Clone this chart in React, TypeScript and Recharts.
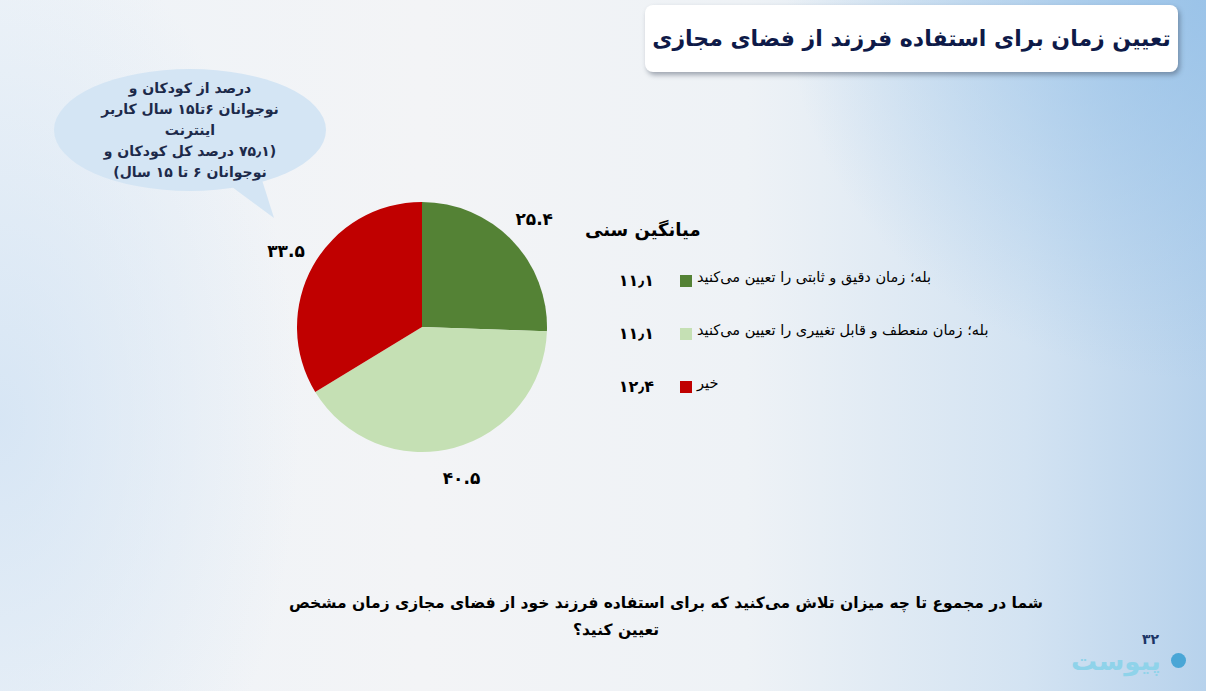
import { Cell, Legend, Pie, PieChart } from "recharts";

// ─── Data ─────────────────────────────────────────────
const categories = [
  "بله؛ زمان دقیق و ثابتی را تعیین می‌کنید",
  "بله؛ زمان منعطف و قابل تغییری را تعیین می‌کنید",
  "خیر",
];
const shares = [25.4, 40.5, 33.5];
const avgAges = [11.1, 11.1, 12.4];
const sliceColors = ["#548235", "#C5E0B4", "#C00000"];

const TITLE = "تعیین زمان برای استفاده فرزند از فضای مجازی";
const LEGEND_TITLE = "میانگین سنی";
const QUESTION_LINE_1 =
  "شما در مجموع تا چه میزان تلاش می‌کنید که برای استفاده فرزند خود از فضای مجازی زمان مشخص";
const QUESTION_LINE_2 = "تعیین کنید؟";
const BUBBLE_LINES = [
  "درصد از کودکان و",
  "نوجوانان ۶تا۱۵ سال کاربر",
  "اینترنت",
  "(۷۵٫۱ درصد کل کودکان و",
  "نوجوانان ۶ تا ۱۵ سال)",
];

const FONT = '"DejaVu Sans", sans-serif';
const RADIAN = Math.PI / 180;

const faDigits = (s: string) => s.replace(/\d/g, (d) => "۰۱۲۳۴۵۶۷۸۹"[+d]);

const chartData = categories.map((name, i) => ({ name, value: shares[i], age: avgAges[i] }));

function SliceLabel(props: any) {
  const { cx, cy, midAngle, outerRadius, value } = props;
  const r = outerRadius + 31;
  const x = cx + r * Math.cos(-midAngle * RADIAN);
  const y = cy + r * Math.sin(-midAngle * RADIAN);
  return (
    <text
      x={x}
      y={y}
      textAnchor="middle"
      dominantBaseline="central"
      fill="#000"
      style={{ fontFamily: FONT, fontWeight: 900, fontSize: 17 }}
    >
      {faDigits(value.toFixed(1))}
    </text>
  );
}

function AgeLegend({ payload }: { payload?: any[] }) {
  return (
    <div style={{ position: "relative", width: 420, height: 200, fontFamily: FONT }}>
      <div
        style={{
          position: "absolute", left: 5, top: 4, fontWeight: 900, fontSize: 18,
          color: "#000", direction: "rtl",
        }}
      >
        {LEGEND_TITLE}
      </div>
      {(payload ?? []).map((p, i) => (
        <div key={i} style={{ position: "absolute", left: 0, top: 58 + i * 53, height: 16, width: 420 }}>
          <span
            style={{
              position: "absolute", right: 346, top: -2, fontWeight: 900, fontSize: 16,
              color: "#000",
            }}
          >
            {faDigits(avgAges[i].toFixed(1)).replace(".", "٫")}
          </span>
          <span
            style={{
              position: "absolute", left: 100, top: 2, width: 12, height: 12,
              background: p.color,
            }}
          />
          <span
            style={{
              position: "absolute", left: 117, top: -4, fontSize: 14.5, color: "#000",
              direction: "rtl", whiteSpace: "nowrap",
            }}
          >
            {p.value}
          </span>
        </div>
      ))}
    </div>
  );
}

export default function App() {
  return (
    <div
      style={{
        position: "absolute", left: 0, top: 0, width: 1206, height: 691, overflow: "hidden",
        background:
          "radial-gradient(ellipse 420px 380px at 1206px 0px, rgba(150,193,232,0.85), rgba(150,193,232,0) 100%)," +
          "radial-gradient(ellipse 300px 500px at 0px 420px, rgba(205,224,243,0.7), rgba(205,224,243,0) 100%)," +
          "linear-gradient(90deg, #eef3f8 0%, #f3f4f6 35%, #eef2f6 62%, #d3e3f2 85%, #b7d2ec 100%)",
        fontFamily: FONT,
      }}
    >
      {/* title box */}
      <div
        style={{
          position: "absolute", left: 645, top: 5, width: 533, height: 67, background: "#fff",
          borderRadius: 8, boxShadow: "2px 3px 5px rgba(60,70,90,0.45)",
          display: "flex", alignItems: "center", justifyContent: "center",
          direction: "rtl", fontWeight: 900, fontSize: 22, color: "#0e1a48", whiteSpace: "nowrap",
        }}
      >
        {TITLE}
      </div>

      {/* speech bubble */}
      <svg style={{ position: "absolute", left: 0, top: 0 }} width={400} height={240}>
        <path d="M228 184 L274 218 L262 180 Z" fill="#d4e5f4" />
        <ellipse cx={190} cy={130} rx={136} ry={61} fill="#d4e5f4" />
      </svg>
      <div
        style={{
          position: "absolute", left: 70, top: 78, width: 240, textAlign: "center",
          direction: "rtl", fontSize: 14, fontWeight: 700, color: "#1d2a4a", lineHeight: "21px",
        }}
      >
        {BUBBLE_LINES.map((l, i) => (
          <div key={i}>{l}</div>
        ))}
      </div>

      <div style={{ position: "absolute", left: 0, top: 0 }}>
        <PieChart width={1206} height={560} margin={{ top: 0, right: 0, bottom: 0, left: 0 }}>
          <Pie
            data={chartData}
            dataKey="value"
            nameKey="name"
            cx={422}
            cy={327}
            outerRadius={125}
            startAngle={90}
            endAngle={-270}
            stroke="none"
            label={SliceLabel}
            labelLine={false}
            isAnimationActive={false}
          >
            {chartData.map((_, i) => (
              <Cell key={i} fill={sliceColors[i]} />
            ))}
          </Pie>
          <Legend
            layout="vertical"
            align="center"
            verticalAlign="middle"
            wrapperStyle={{ left: 580, top: 215, width: 420 }}
            content={(props: any) => <AgeLegend payload={props.payload} />}
          />
        </PieChart>
      </div>

      {/* question */}
      <div
        style={{
          position: "absolute", left: 266, top: 594, width: 800, textAlign: "center",
          direction: "rtl", fontWeight: 900, fontSize: 15.5, color: "#000", whiteSpace: "nowrap",
        }}
      >
        {QUESTION_LINE_1}
      </div>
      <div
        style={{
          position: "absolute", left: 516, top: 621, width: 200, textAlign: "center",
          direction: "rtl", fontWeight: 900, fontSize: 15.5, color: "#000",
        }}
      >
        {QUESTION_LINE_2}
      </div>

      {/* logo */}
      <div style={{ position: "absolute", left: 1062, top: 632, width: 130, height: 45 }}>
        <span
          style={{
            position: "absolute", left: 80, top: 0, fontSize: 14, lineHeight: "14px",
            fontWeight: 900, color: "#1d3566",
          }}
        >
          ۳۲
        </span>
        <span
          style={{
            position: "absolute", left: 2, top: 17, width: 104, textAlign: "center",
            fontSize: 26, lineHeight: "24px", fontWeight: 900, color: "#8fd3ea", direction: "rtl",
          }}
        >
          پیوست
        </span>
        <span
          style={{
            position: "absolute", left: 109, top: 21, width: 15, height: 15, borderRadius: 8,
            background: "#4aa6d6",
          }}
        />
      </div>
    </div>
  );
}
